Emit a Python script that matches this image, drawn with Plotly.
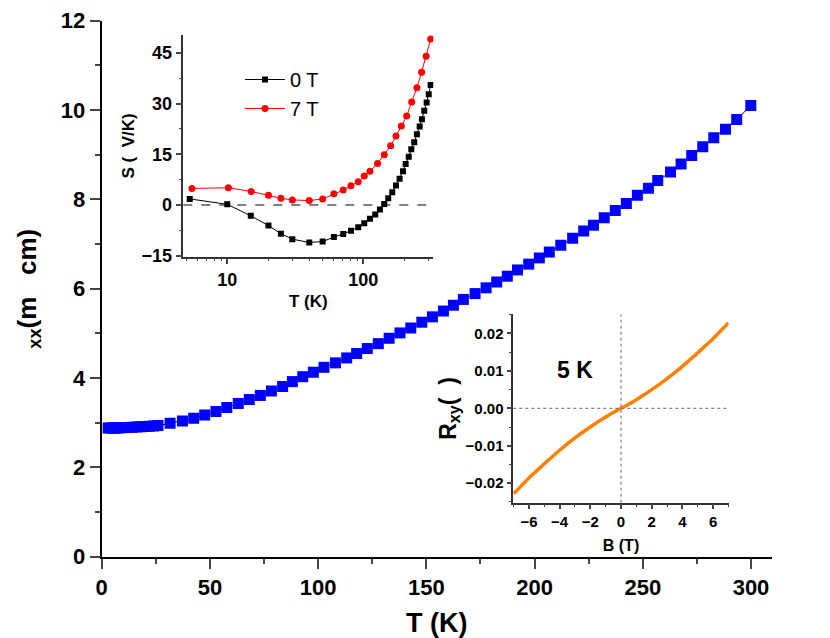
import plotly.graph_objects as go

# main panel: resistivity vs temperature
T_main = [3, 4, 5, 6, 7, 8, 9, 10, 11, 12, 14, 16, 18, 20, 22, 24, 26,
          31.6, 37.3, 42.5, 47.6, 52.8, 57.8, 63.1, 68.2, 73.3, 78.4, 83.6, 88.1,
          92.9, 97.8, 102.7, 108, 113.2, 117.8, 122.7, 127.8, 132.8, 137.8, 142.8,
          147.9, 152.8, 157.9, 162.5, 167.1, 172.5, 177.6, 182.5, 187.4, 192.1,
          197.3, 202.2, 206.8, 212.1, 217.6, 222.7, 227.2, 232.2, 237.3, 242.4,
          247.5, 252.6, 256.9, 262.8, 267.7, 272.6, 277.7, 282.8, 288.2, 293.4, 299.9]
rho_xx = [2.88, 2.88, 2.88, 2.88, 2.88, 2.885, 2.885, 2.89, 2.89, 2.895, 2.90, 2.905,
          2.91, 2.915, 2.92, 2.925, 2.935,
          2.99, 3.04, 3.10, 3.17, 3.25, 3.34, 3.43, 3.52, 3.61, 3.71, 3.81, 3.92,
          4.03, 4.13, 4.24, 4.34, 4.45, 4.55, 4.66, 4.77, 4.89, 5.01, 5.12,
          5.25, 5.37, 5.50, 5.63, 5.76, 5.89, 6.02, 6.15, 6.28, 6.42,
          6.55, 6.69, 6.82, 6.97, 7.13, 7.29, 7.42, 7.59, 7.75, 7.91,
          8.09, 8.25, 8.42, 8.61, 8.79, 8.98, 9.18, 9.38, 9.57, 9.79, 10.10]

# inset 1: thermopower
T_0T = [5.3, 10, 14.9, 20.1, 24.8, 30.1, 40.1, 50.3, 60.8, 71.2, 81.2, 91.9, 101.7,
        112, 122.5, 132.6, 142.7, 152.6, 163.4, 174, 185, 196, 205, 216, 225.5,
        237, 248, 260, 270, 281, 292.5, 303, 313]
S_0T = [1.8, 0.2, -3.2, -6.1, -8.5, -10.1, -11.1, -10.8, -9.5, -8.6, -7.6, -6.6, -5.4,
        -4.1, -2.8, -1.3, 0.3, 2.0, 3.8, 5.8, 7.8, 10.0, 12.1, 14.3, 16.5,
        18.6, 20.9, 23.2, 25.4, 27.9, 30.3, 32.8, 35.5]
T_7T = [5.5, 10.2, 15, 20.1, 24.8, 30.1, 40.1, 50.3, 60.8, 71.2, 81.2, 91.9, 101.7,
        112, 127.4, 142.7, 159, 174, 190.5, 208.5, 227, 248, 268.5, 290, 313]
S_7T = [4.9, 5.1, 4.0, 2.9, 2.0, 1.5, 1.3, 1.8, 3.3, 4.4, 5.7, 6.9, 8.6,
        10.0, 12.3, 14.9, 17.5, 20.4, 23.4, 26.3, 30.5, 34.7, 39.3, 44.0, 49.1]

# inset 2: Hall resistance at 5 K
B_field = [-7, -6.5, -6, -5.5, -5, -4.5, -4, -3.5, -3, -2.5, -2, -1.5, -1, -0.5, 0,
           0.5, 1, 1.5, 2, 2.5, 3, 3.5, 4, 4.5, 5, 5.5, 6, 6.5, 7]
R_xy = [-0.0228, -0.0207, -0.0186, -0.0167, -0.0148, -0.0130, -0.0112, -0.0095,
        -0.0079, -0.0064, -0.0050, -0.0036, -0.0023, -0.0011, 0.0,
        0.0011, 0.0023, 0.0036, 0.0050, 0.0064, 0.0079, 0.0095, 0.0112, 0.0130,
        0.0148, 0.0167, 0.0186, 0.0207, 0.0228]

FONT = 'Liberation Sans'
W, H = 830, 638


def bold(size):
    return dict(family=FONT, size=size, color='black', weight='bold')


def dom_x(left, right):
    return [left / W, right / W]


def dom_y(top, bottom):
    return [(H - bottom) / H, (H - top) / H]


fig = go.Figure()

fig.add_trace(go.Scatter(
    x=T_main, y=rho_xx, mode='lines+markers', showlegend=False,
    line=dict(color='black', width=1),
    marker=dict(symbol='square', size=11, color='#0000FF', line=dict(width=0)),
    xaxis='x', yaxis='y'
))

fig.add_trace(go.Scatter(
    x=T_0T, y=S_0T, mode='lines+markers', name='0 T',
    line=dict(color='black', width=1),
    marker=dict(symbol='square', size=6, color='black'),
    xaxis='x3', yaxis='y3'
))
fig.add_trace(go.Scatter(
    x=T_7T, y=S_7T, mode='lines+markers', name='7 T',
    line=dict(color='#FF0000', width=1),
    marker=dict(symbol='circle', size=7, color='#FF0000'),
    xaxis='x3', yaxis='y3'
))

fig.add_trace(go.Scatter(
    x=B_field, y=R_xy, mode='lines', showlegend=False,
    line=dict(color='#FF8000', width=3.5, shape='spline', smoothing=1.0),
    xaxis='x5', yaxis='y5'
))

# panel boxes (figure pixels, page is offset by the 8px body margin)
main_x = dom_x(93.7, 764)
main_y = dom_y(12.7, 548.7)
s_x = dom_x(175.3, 425.3)
s_y = dom_y(27, 248.7)
h_x = dom_x(505.3, 720.7)
h_y = dom_y(306.3, 494.7)

axis_common = dict(showgrid=False, zeroline=False, showline=True, automargin=False)
log_minor = [5, 6, 7, 8, 9, 20, 30, 40, 50, 60, 70, 80, 90, 200, 300]

fig.update_layout(
    width=W, height=H,
    paper_bgcolor='white', plot_bgcolor='white',
    margin=dict(l=0, r=0, t=0, b=0),
    font=dict(family=FONT, color='black'),
    # main axes
    xaxis=dict(**axis_common, domain=main_x, anchor='y', range=[0, 309.7],
               tickvals=[0, 50, 100, 150, 200, 250, 300],
               ticks='outside', ticklen=10, tickwidth=2, linewidth=2, linecolor='black',
               minor=dict(ticks='outside', ticklen=5, tickwidth=2, dtick=25, tick0=0),
               tickfont=bold(22),
               title=dict(text='T (K)', font=bold(27), standoff=14)),
    yaxis=dict(**axis_common, domain=main_y, anchor='x', range=[0, 12],
               tickvals=[0, 2, 4, 6, 8, 10, 12],
               ticks='outside', ticklen=10, tickwidth=2, linewidth=2, linecolor='black',
               minor=dict(ticks='outside', ticklen=5, tickwidth=2, dtick=1, tick0=0),
               tickfont=bold(22),
               title=dict(text='\u00a0\u00a0<sub>xx</sub>(m\u00a0\u00a0\u00a0cm)',
                          font=bold(26), standoff=17)),
    xaxis2=dict(**axis_common, overlaying='x', side='top', anchor='y', range=[0, 309.7],
                tickvals=[0, 50, 100, 150, 200, 250, 300], showticklabels=False,
                ticks='inside', ticklen=10, tickwidth=2, linewidth=2, linecolor='black',
                minor=dict(ticks='inside', ticklen=10, tickwidth=2, dtick=25, tick0=0)),
    yaxis2=dict(**axis_common, overlaying='y', side='right', anchor='x', range=[0, 12],
                tickvals=[0, 2, 4, 6, 8, 10, 12], showticklabels=False,
                ticks='inside', ticklen=10, tickwidth=2, linewidth=2, linecolor='black',
                minor=dict(ticks='inside', ticklen=5, tickwidth=2, dtick=1, tick0=0)),
    # thermopower inset
    xaxis3=dict(**axis_common, domain=s_x, anchor='y3', type='log', range=[0.677, 2.515],
                tickvals=[10, 100], ticks='outside', ticklen=6, tickwidth=1.5,
                linewidth=1.5, linecolor='#333',
                minor=dict(ticks='outside', ticklen=3, tickwidth=1, tickvals=log_minor),
                tickfont=bold(18),
                title=dict(text='T (K)', font=bold(17), standoff=6)),
    yaxis3=dict(**axis_common, domain=s_y, anchor='x3', range=[-15.3, 50.3],
                tickvals=[-15, 0, 15, 30, 45], ticks='outside', ticklen=6, tickwidth=1.5,
                linewidth=1.5, linecolor='#333',
                minor=dict(ticks='outside', ticklen=3, tickwidth=1, dtick=7.5, tick0=0),
                tickfont=bold(18),
                title=dict(text='S (\u00a0\u00a0V/K)', font=bold(17), standoff=2)),
    xaxis4=dict(**axis_common, overlaying='x3', side='top', anchor='y3', type='log',
                range=[0.677, 2.515], tickvals=[10, 100], showticklabels=False,
                ticks='inside', ticklen=6, tickwidth=1.5, linewidth=1.5, linecolor='#333',
                minor=dict(ticks='inside', ticklen=3, tickwidth=1, tickvals=log_minor)),
    yaxis4=dict(**axis_common, overlaying='y3', side='right', anchor='x3', range=[-15.3, 50.3],
                tickvals=[-15, 0, 15, 30, 45], showticklabels=False,
                ticks='inside', ticklen=6, tickwidth=1.5, linewidth=1.5, linecolor='#333',
                minor=dict(ticks='inside', ticklen=3, tickwidth=1, dtick=7.5, tick0=0)),
    # Hall inset
    xaxis5=dict(**axis_common, domain=h_x, anchor='y5', range=[-7.02, 7.02],
                tickvals=[-6, -4, -2, 0, 2, 4, 6], ticks='outside', ticklen=5, tickwidth=1.5,
                linewidth=1.5, linecolor='#333',
                minor=dict(ticks='outside', ticklen=3, tickwidth=1, dtick=1, tick0=0),
                tickfont=bold(15),
                title=dict(text='B (T)', font=bold(16), standoff=10)),
    yaxis5=dict(**axis_common, domain=h_y, anchor='x5', range=[-0.0252, 0.0251],
                tickvals=[-0.02, -0.01, 0, 0.01, 0.02], tickformat='.2f',
                ticks='outside', ticklen=5, tickwidth=1.5,
                linewidth=1.5, linecolor='#333',
                minor=dict(ticks='outside', ticklen=3, tickwidth=1, dtick=0.005, tick0=0),
                tickfont=bold(15),
                title=dict(text='R<sub>xy</sub>(\u00a0\u00a0)', font=bold(23), standoff=3)),
    xaxis6=dict(**axis_common, overlaying='x5', side='top', anchor='y5', range=[-7.02, 7.02],
                tickvals=[-6, -4, -2, 0, 2, 4, 6], showticklabels=False,
                ticks='inside', ticklen=5, tickwidth=1.5, linewidth=1.5, linecolor='#333',
                minor=dict(ticks='inside', ticklen=3, tickwidth=1, dtick=1, tick0=0)),
    yaxis6=dict(**axis_common, overlaying='y5', side='right', anchor='x5',
                range=[-0.0252, 0.0251], tickvals=[-0.02, -0.01, 0, 0.01, 0.02],
                showticklabels=False,
                ticks='inside', ticklen=5, tickwidth=1.5, linewidth=1.5, linecolor='#333',
                minor=dict(ticks='inside', ticklen=3, tickwidth=1, dtick=0.005, tick0=0)),
    legend=dict(x=232 / W, y=1 - 52 / H, xanchor='left', yanchor='top',
                bgcolor='rgba(0,0,0,0)', font=dict(family=FONT, size=20, color='black'),
                tracegroupgap=0, itemwidth=40),
    shapes=[
        dict(type='line', xref='x3 domain', yref='y3', x0=0, x1=1, y0=0, y1=0,
             line=dict(color='black', width=1, dash='dash')),
        dict(type='line', xref='x5 domain', yref='y5', x0=0, x1=1, y0=0, y1=0,
             line=dict(color='#666', width=1, dash='dot')),
        dict(type='line', xref='x5', yref='y5 domain', x0=0, x1=0, y0=0, y1=1,
             line=dict(color='#666', width=1, dash='dot')),
    ],
    annotations=[
        dict(text='5 K', xref='x5', yref='y5', x=-3.0, y=0.0101, showarrow=False,
             font=bold(23)),
    ],
)

fig.write_html("out.html")
